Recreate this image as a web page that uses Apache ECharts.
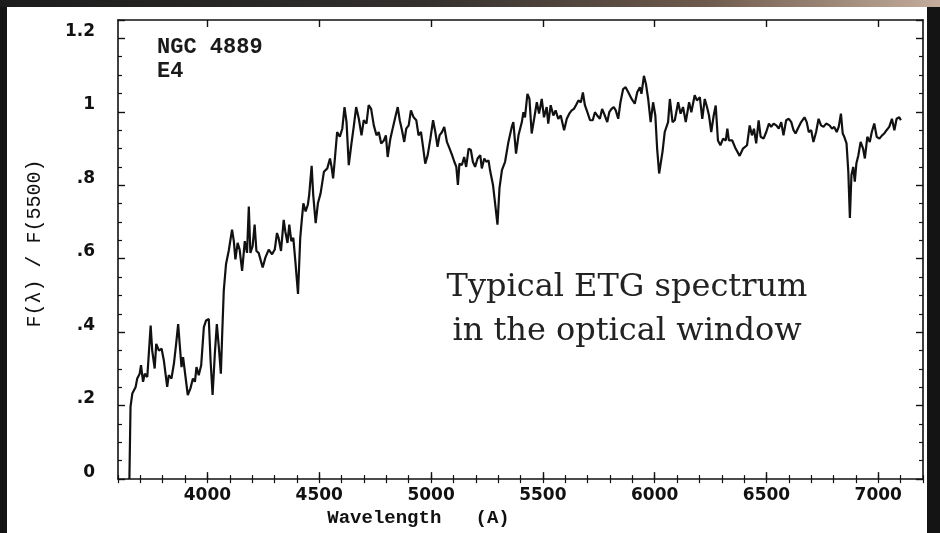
<!DOCTYPE html>
<html>
<head>
<meta charset="utf-8">
<title>NGC 4889 spectrum</title>
<script src="https://cdn.jsdelivr.net/npm/echarts@6/dist/echarts.min.js"></script>
<style>
  html, body { margin: 0; padding: 0; background: #141414; }
  #chart { width: 940px; height: 533px; }
</style>
</head>
<body>
<div id="chart"></div>
<script>
// Wavelength in Angstrom and flux normalised at 5500 A
const wavelength = [
  3651, 3656, 3664, 3679, 3686, 3697, 3703, 3712, 3720, 3731,
  3746, 3753, 3764, 3771, 3783, 3795, 3805, 3820, 3827, 3839,
  3850, 3860, 3869, 3877, 3884, 3891, 3902, 3912, 3924, 3935,
  3944, 3951, 3961, 3972, 3984, 3994, 4006, 4014, 4023, 4033,
  4042, 4051, 4060, 4066, 4073, 4083, 4095, 4110, 4118, 4125,
  4135, 4144, 4155, 4167, 4177, 4185, 4192, 4202, 4211, 4219,
  4229, 4247, 4259, 4274, 4289, 4301, 4311, 4318, 4329, 4341,
  4348, 4358, 4366, 4375, 4384, 4393, 4405, 4415, 4422, 4429,
  4439, 4449, 4455, 4466, 4473, 4484, 4494, 4506, 4521, 4536,
  4548, 4555, 4562, 4570, 4580, 4592, 4603, 4613, 4622, 4632,
  4643, 4655, 4665, 4677, 4689, 4699, 4711, 4721, 4732, 4744,
  4756, 4766, 4777, 4789, 4798, 4806, 4818, 4830, 4840, 4851,
  4860, 4870, 4880, 4889, 4900, 4910, 4922, 4934, 4944, 4955,
  4964, 4974, 4985, 4997, 5009, 5019, 5029, 5038, 5049, 5059,
  5071, 5083, 5094, 5104, 5113, 5120, 5127, 5138, 5148, 5157,
  5168, 5178, 5187, 5197, 5208, 5220, 5227, 5238, 5247, 5257,
  5264, 5277, 5287, 5297, 5306, 5317, 5331, 5346, 5361, 5368,
  5380, 5391, 5406, 5413, 5420, 5431, 5440, 5450, 5461, 5473,
  5483, 5495, 5505, 5517, 5524, 5535, 5547, 5557, 5569, 5580,
  5595, 5607, 5618, 5629, 5639, 5648, 5659, 5670, 5679, 5688,
  5699, 5711, 5723, 5733, 5743, 5755, 5765, 5777, 5788, 5797,
  5807, 5817, 5826, 5837, 5847, 5859, 5870, 5882, 5897, 5911,
  5922, 5934, 5941, 5952, 5961, 5971, 5982, 5993, 6003, 6011,
  6020, 6027, 6035, 6045, 6060, 6068, 6080, 6090, 6105, 6116,
  6127, 6139, 6154, 6164, 6179, 6189, 6202, 6213, 6224, 6234,
  6243, 6253, 6264, 6273, 6283, 6294, 6306, 6318, 6325, 6332,
  6347, 6362, 6380, 6395, 6413, 6425, 6435, 6444, 6454, 6465,
  6474, 6487, 6499, 6511, 6521, 6532, 6544, 6555, 6566, 6576,
  6588, 6600, 6611, 6621, 6630, 6640, 6655, 6670, 6680, 6689,
  6700, 6710, 6722, 6733, 6744, 6755, 6767, 6782, 6793, 6803,
  6814, 6823, 6833, 6841, 6848, 6858, 6866, 6873, 6880, 6888,
  6895, 6902, 6911, 6921, 6932, 6940, 6951, 6962, 6971, 6982,
  6993, 7005, 7017, 7027, 7037, 7049, 7061, 7072, 7082, 7094,
  7101
];
const flux = [
  0.000, 0.197, 0.233, 0.251, 0.274, 0.287, 0.310, 0.265, 0.287, 0.278,
  0.418, 0.350, 0.301, 0.368, 0.350, 0.355, 0.323, 0.251, 0.283, 0.274,
  0.314, 0.368, 0.422, 0.359, 0.305, 0.332, 0.278, 0.229, 0.247, 0.274,
  0.265, 0.305, 0.283, 0.310, 0.414, 0.432, 0.436, 0.323, 0.229, 0.341,
  0.422, 0.359, 0.287, 0.395, 0.513, 0.585, 0.621, 0.679, 0.648, 0.598,
  0.643, 0.625, 0.567, 0.648, 0.616, 0.742, 0.616, 0.634, 0.693, 0.621,
  0.616, 0.576, 0.603, 0.625, 0.612, 0.625, 0.670, 0.657, 0.621, 0.706,
  0.675, 0.643, 0.693, 0.648, 0.657, 0.594, 0.504, 0.657, 0.706, 0.751,
  0.729, 0.747, 0.774, 0.853, 0.774, 0.697, 0.751, 0.778, 0.837, 0.846,
  0.873, 0.850, 0.819, 0.873, 0.945, 0.932, 0.954, 1.013, 0.972, 0.855,
  0.909, 0.963, 1.013, 0.981, 0.936, 0.977, 0.968, 1.018, 1.008, 0.963,
  0.936, 0.945, 0.914, 0.922, 0.936, 0.877, 0.927, 0.959, 0.985, 1.013,
  0.977, 0.950, 0.918, 0.954, 0.963, 1.004, 0.985, 0.977, 0.936, 0.945,
  0.905, 0.859, 0.882, 0.927, 0.977, 0.945, 0.905, 0.936, 0.945, 0.959,
  0.918, 0.900, 0.882, 0.864, 0.850, 0.801, 0.859, 0.855, 0.877, 0.850,
  0.900, 0.896, 0.864, 0.850, 0.873, 0.882, 0.846, 0.873, 0.864, 0.868,
  0.840, 0.801, 0.747, 0.693, 0.792, 0.841, 0.864, 0.918, 0.959, 0.972,
  0.886, 0.936, 0.972, 0.999, 0.985, 1.049, 1.035, 0.941, 0.981, 1.026,
  0.995, 1.035, 0.985, 1.013, 0.968, 1.018, 0.990, 1.004, 0.981, 0.990,
  0.950, 0.981, 0.995, 1.004, 1.008, 1.018, 1.031, 1.026, 1.053, 1.018,
  0.999, 0.977, 0.977, 0.999, 0.990, 0.981, 1.008, 0.990, 0.972, 0.999,
  1.008, 1.013, 1.004, 0.981, 1.026, 1.062, 1.067, 1.053, 1.035, 1.022,
  1.053, 1.067, 1.049, 1.098, 1.076, 1.035, 0.972, 1.026, 0.990, 0.900,
  0.832, 0.828, 0.891, 0.945, 0.972, 1.035, 0.972, 0.977, 1.026, 0.995,
  1.013, 0.972, 1.026, 0.999, 1.045, 1.031, 1.040, 0.981, 1.035, 1.013,
  0.990, 0.945, 0.990, 1.017, 0.922, 0.909, 0.927, 0.922, 0.954, 0.922,
  0.922, 0.900, 0.880, 0.900, 0.909, 0.963, 0.936, 0.954, 0.914, 0.977,
  0.932, 0.927, 0.945, 0.968, 0.959, 0.968, 0.963, 0.954, 0.972, 0.936,
  0.977, 0.981, 0.972, 0.950, 0.941, 0.954, 0.972, 0.985, 0.972, 0.945,
  0.950, 0.918, 0.945, 0.981, 0.963, 0.959, 0.968, 0.963, 0.954, 0.959,
  0.945, 0.959, 0.995, 0.941, 0.932, 0.914, 0.837, 0.711, 0.828, 0.850,
  0.810, 0.859, 0.882, 0.918, 0.900, 0.873, 0.932, 0.918, 0.945, 0.968,
  0.932, 0.927, 0.936, 0.941, 0.950, 0.959, 0.981, 0.950, 0.981, 0.985,
  0.977
];

// Axis ranges and labelled ticks
const xRange = [3600, 7200];
const xMajorTicks = [4000, 4500, 5000, 5500, 6000, 6500, 7000];
const yRange = [0, 1.25];
const yLabels = { 0: '0', 0.2: '.2', 0.4: '.4', 0.6: '.6', 0.8: '.8', 1: '1', 1.2: '1.2' };

const galaxyName = 'NGC 4889';
const galaxyType = 'E4';
const noteLines = ['Typical ETG spectrum', 'in the optical window'];

const seriesData = wavelength.map((w, i) => [w, flux[i]]);

const AX = '#111';
const tickFont = { fontFamily: 'DejaVu Sans', fontWeight: 'bold', fontSize: 17, color: AX };
const monoFont = 'Liberation Mono';

function majorX(position, withLabels) {
  return {
    type: 'value', position: position, min: xRange[0], max: xRange[1],
    axisLine: { show: true, onZero: false, lineStyle: { color: AX, width: 1.6 } },
    axisTick: { show: true, inside: true, length: 7, customValues: xMajorTicks, lineStyle: { color: AX, width: 1.4 } },
    axisLabel: withLabels ? Object.assign({
      show: true, margin: 8, customValues: xMajorTicks, formatter: v => String(Math.round(v))
    }, tickFont) : { show: false },
    splitLine: { show: false }
  };
}
function minorX(position) {
  return {
    type: 'value', position: position, min: xRange[0], max: xRange[1], interval: 100,
    axisLine: { show: false },
    axisTick: { show: true, inside: true, length: 4, lineStyle: { color: AX, width: 1.2 } },
    axisLabel: { show: false },
    splitLine: { show: false }
  };
}
function yAxisDef(position, withLabels) {
  return {
    type: 'value', position: position, min: yRange[0], max: yRange[1], interval: 0.2,
    axisLine: { show: true, onZero: false, lineStyle: { color: AX, width: 1.6 } },
    axisTick: { show: true, inside: true, length: 7, lineStyle: { color: AX, width: 1.4 } },
    minorTick: { show: true, splitNumber: 4, length: 4, lineStyle: { color: AX, width: 1.2 } },
    axisLabel: withLabels ? Object.assign({
      show: true, margin: 23, verticalAlign: 'bottom', lineHeight: 14,
      formatter: v => { const k = Math.round(v * 10) / 10; return (Math.abs(v - k) < 1e-6 && yLabels[k] !== undefined) ? yLabels[k] : ''; }
    }, tickFont) : { show: false },
    splitLine: { show: false },
    minorSplitLine: { show: false }
  };
}

const xAxes = [majorX('bottom', true), minorX('bottom'), majorX('top', false), minorX('top')];
xAxes[0].name = 'Wavelength   (A)';
xAxes[0].nameLocation = 'middle';
xAxes[0].nameGap = 24;
xAxes[0].nameTextStyle = { fontFamily: monoFont, fontWeight: 'bold', fontSize: 19, color: AX, padding: [0, 204, 0, 0] };

const yAxes = [yAxisDef('left', true), yAxisDef('right', false)];
yAxes[0].name = 'F(λ) / F(5500)';
yAxes[0].nameLocation = 'middle';
yAxes[0].nameGap = 73;
yAxes[0].nameTextStyle = { fontFamily: monoFont, fontSize: 20, color: AX, padding: [0, 0, 0, 12] };

const chart = echarts.init(document.getElementById('chart'), null, { renderer: 'canvas' });
chart.setOption({
  animation: false,
  backgroundColor: '#141414',
  grid: { left: 118, right: 17, top: 20, bottom: 50, containLabel: false },
  title: {
    text: galaxyName + '\n' + galaxyType,
    left: 157, top: 35, padding: 0,
    textStyle: { fontFamily: monoFont, fontWeight: 'bold', fontSize: 22, lineHeight: 24, color: '#1a1a1a' }
  },
  graphic: [
    {
      type: 'rect', z: -10, shape: { x: 0, y: 0, width: 940, height: 7 },
      style: { fill: new echarts.graphic.LinearGradient(0, 0, 1, 0, [
        { offset: 0, color: '#1c1c1c' }, { offset: 0.45, color: '#33302e' },
        { offset: 0.75, color: '#6e5a4c' }, { offset: 1, color: '#c4ad9c' }
      ]) }
    },
    { type: 'rect', z: -10, shape: { x: 7, y: 7, width: 920, height: 526 }, style: { fill: '#ffffff' } },
    {
      type: 'text', z: 10, x: 627, y: 266,
      style: {
        text: noteLines.join('\n'), fill: '#222', align: 'center', verticalAlign: 'top',
        font: '32px "DejaVu Serif"', lineHeight: 44
      }
    }
  ],
  xAxis: xAxes,
  yAxis: yAxes,
  series: [{
    type: 'line', xAxisIndex: 0, yAxisIndex: 0,
    data: seriesData, showSymbol: false, symbol: 'none',
    lineStyle: { color: '#111', width: 2.2 },
    clip: true
  }]
});
</script>
</body>
</html>
